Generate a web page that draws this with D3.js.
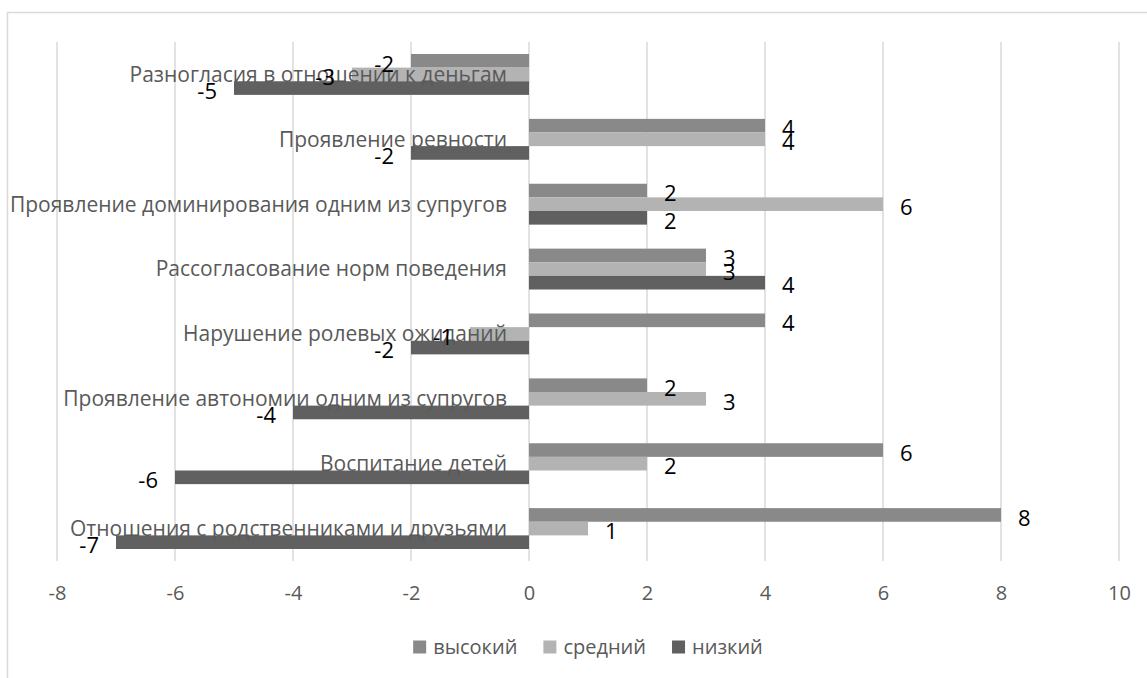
<!DOCTYPE html>
<html>
<head>
<meta charset="utf-8">
<script src="https://cdn.jsdelivr.net/npm/d3@7"></script>
<style>
	body { margin: 0; background: #fff; }
	text { font-family: 'Open Sans', sans-serif; }
</style>
</head>
<body>
<div id="chart"></div>
<script>
const categories = [
	'Разногласия в отношении к деньгам',
	'Проявление ревности',
	'Проявление доминирования одним из супругов',
	'Рассогласование норм поведения',
	'Нарушение ролевых ожиданий',
	'Проявление автономии одним из супругов',
	'Воспитание детей',
	'Отношения с родственниками и друзьями',
];
const seriesNames = ['высокий', 'средний', 'низкий'];
const highValues = [-2, 4, 2, 3, 4, 2, 6, 8];
const midValues = [-3, 4, 6, 3, -1, 3, 2, 1];
const lowValues = [-5, -2, 2, 4, -2, -4, -6, -7];
const xTicks = [-8, -6, -4, -2, 0, 2, 4, 6, 8, 10];

const colors = ['#898989', '#b3b3b3', '#606060'];
const seriesValues = [highValues, midValues, lowValues];

const width = 1147;
const height = 678;
const plot = { left: 57, right: 1119, top: 42, bottom: 561 };

const svg = d3.select('#chart').append('svg')
	.attr('width', width)
	.attr('height', height);

// chart frame (runs off the right and bottom edges)
svg.append('rect')
	.attr('x', 7.5)
	.attr('y', 12.5)
	.attr('width', 1300)
	.attr('height', 800)
	.attr('fill', 'none')
	.attr('stroke', '#d9d9d9')
	.attr('stroke-width', 1.5);

const x = d3.scaleLinear()
	.domain([-8, 10])
	.range([plot.left, plot.right]);

const y = d3.scaleBand()
	.domain(categories)
	.range([plot.top, plot.bottom])
	.paddingInner(0.37)
	.paddingOuter(0.185);

const ySeries = d3.scaleBand()
	.domain(seriesNames)
	.range([0, y.bandwidth()]);

// gridlines
svg.append('g')
	.selectAll('line')
	.data(xTicks)
	.enter()
	.append('line')
	.attr('x1', d => x(d))
	.attr('x2', d => x(d))
	.attr('y1', plot.top)
	.attr('y2', plot.bottom)
	.attr('stroke', '#d9d9d9')
	.attr('stroke-width', 1.5);

// x axis tick labels (plain hyphen like the original)
const xAxis = d3.axisBottom(x)
	.tickValues(xTicks)
	.tickSize(0)
	.tickPadding(0)
	.tickFormat(d => String(d));
const axisG = svg.append('g')
	.attr('transform', `translate(0, ${plot.bottom})`)
	.call(xAxis);
axisG.select('.domain').remove();
axisG.selectAll('text')
	.attr('y', 32)
	.attr('dy', '0.35em')
	.style('font-family', "'Open Sans', sans-serif")
	.style('font-size', '20px')
	.style('fill', '#595959');

// build rows of data
const rows = [];
categories.forEach((c, i) => {
	seriesNames.forEach((s, j) => {
		rows.push({ cat: c, series: s, value: seriesValues[j][i], idx: j });
	});
});

const barH = ySeries.bandwidth();

svg.append('g')
	.selectAll('rect')
	.data(rows)
	.enter()
	.append('rect')
	.attr('x', d => Math.min(x(0), x(d.value)))
	.attr('y', d => y(d.cat) + ySeries(d.series))
	.attr('width', d => Math.abs(x(d.value) - x(0)))
	.attr('height', barH)
	.attr('fill', d => colors[d.idx]);

// category labels sit next to the zero line
svg.append('g')
	.selectAll('text')
	.data(categories)
	.enter()
	.append('text')
	.attr('x', x(0) - 22)
	.attr('y', d => y(d) + y.bandwidth() / 2)
	.attr('dy', '0.35em')
	.attr('text-anchor', 'end')
	.style('font-size', '21px')
	.style('fill', '#595959')
	.text(d => d);

// data labels
svg.append('g')
	.selectAll('text')
	.data(rows)
	.enter()
	.append('text')
	.attr('x', d => d.value < 0 ? x(d.value) - 17 : x(d.value) + 17)
	.attr('y', d => y(d.cat) + ySeries(d.series) + barH / 2 + 3)
	.attr('dy', '0.35em')
	.attr('text-anchor', d => d.value < 0 ? 'end' : 'start')
	.style('font-size', '22px')
	.style('fill', '#000')
	.text(d => d.value);

// legend
const legend = svg.append('g');
const items = legend.selectAll('g')
	.data(seriesNames)
	.enter()
	.append('g');
items.append('rect')
	.attr('width', 13)
	.attr('height', 13)
	.attr('y', -6.5)
	.attr('fill', (d, i) => colors[i]);
items.append('text')
	.attr('x', 20)
	.attr('dy', '0.35em')
	.style('font-size', '20px')
	.style('fill', '#595959')
	.text(d => d);

let offset = 0;
items.each(function() {
	d3.select(this).attr('transform', `translate(${offset}, 0)`);
	offset += this.getBBox().width + 26;
});
const legendWidth = offset - 26;
legend.attr('transform', `translate(${(plot.left + plot.right) / 2 - legendWidth / 2}, 647)`);
</script>
</body>
</html>
